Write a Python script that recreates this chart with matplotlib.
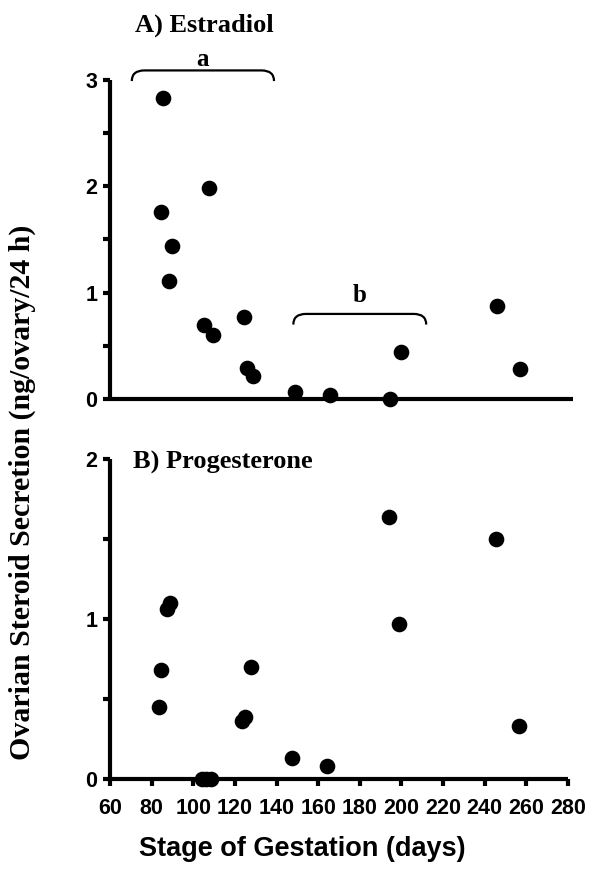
import matplotlib
matplotlib.use('Agg')
import matplotlib.pyplot as plt
from matplotlib.path import Path
from matplotlib.patches import PathPatch

# A) estradiol secretion (ng/ovary/24 h) vs day of gestation
e2_day = [85.7, 84.4, 107.7, 89.7, 88.6, 105.4, 109.6, 124.7, 126.2, 128.8,
          149.2, 166.0, 195.0, 200.0, 246.4, 257.3]
e2_val = [2.83, 1.76, 1.98, 1.44, 1.11, 0.70, 0.60, 0.77, 0.29, 0.22,
          0.07, 0.04, 0.0, 0.44, 0.87, 0.28]

# B) progesterone secretion
p4_day = [88.6, 87.3, 84.6, 83.3, 127.5, 125.0, 123.5, 147.6, 164.4,
          104.2, 106.0, 108.5, 193.8, 199.0, 245.2, 256.3]
p4_val = [1.10, 1.06, 0.68, 0.45, 0.70, 0.39, 0.36, 0.13, 0.08,
          0.0, 0.0, 0.0, 1.64, 0.97, 1.50, 0.33]

# significance brackets: label, start day, end day, level, label level
brackets = [('a', 70.5, 139.0, 3.09, 3.19),
            ('b', 148.3, 212.3, 0.80, 0.97)]

x_ticks = list(range(60, 281, 20))

sans = ['Liberation Sans', 'DejaVu Sans']
serif = ['Liberation Serif', 'DejaVu Serif']
lw = 3.0

fig = plt.figure(figsize=(5.92, 8.8), dpi=100)
ax1 = fig.add_axes([110 / 592, 1 - 399 / 880, 463 / 592, 319 / 880])
ax2 = fig.add_axes([110 / 592, 1 - 779 / 880, 458 / 592, 320 / 880])

for ax in (ax1, ax2):
    for s in ('top', 'right'):
        ax.spines[s].set_visible(False)
    for s in ('left', 'bottom'):
        ax.spines[s].set_linewidth(lw)
        ax.spines[s].set_capstyle('butt')
    ax.tick_params(which='both', direction='out', width=lw, length=5, pad=4)

ax1.scatter(e2_day, e2_val, s=105, color='black', zorder=3, clip_on=False)
ax1.set_xlim(60, 283)
ax1.set_ylim(0, 3)
ax1.set_yticks([0, 1, 2, 3])
ax1.set_yticks([0.5, 1.5, 2.5], minor=True)
ax1.set_xticks([])

ax2.scatter(p4_day, p4_val, s=105, color='black', zorder=3, clip_on=False)
ax2.set_xlim(60, 280)
ax2.set_ylim(0, 2)
ax2.set_yticks([0, 1, 2])
ax2.set_yticks([0.5, 1.5], minor=True)
ax2.set_xticks(x_ticks)
ax2.tick_params(axis='x', pad=9)

for ax in (ax1, ax2):
    for lab in ax.get_xticklabels() + ax.get_yticklabels():
        lab.set_fontfamily(sans)
        lab.set_fontweight('bold')
        lab.set_fontsize(15.5)

# brackets
for lab, x0, x1, top, ly in brackets:
    drop, dx = 0.1, 6
    verts = [(x0, top - drop), (x0, top), (x0 + dx, top),
             (x1 - dx, top), (x1, top), (x1, top - drop)]
    codes = [Path.MOVETO, Path.CURVE3, Path.CURVE3,
             Path.LINETO, Path.CURVE3, Path.CURVE3]
    ax1.add_patch(PathPatch(Path(verts, codes), fill=False, lw=1.6,
                            color='black', clip_on=False))
    ax1.text((x0 + x1) / 2, ly, lab, ha='center', va='center',
             fontsize=18, fontweight='bold', family=serif, clip_on=False)

ax1.text(0.204, 1.172, 'A) Estradiol', transform=ax1.transAxes, ha='center',
         va='center', fontsize=19, fontweight='bold', family=serif)
ax2.text(0.05, 0.99, 'B) Progesterone', transform=ax2.transAxes, ha='left',
         va='center', fontsize=19, fontweight='bold', family=serif)

fig.text(22 / 592, 1 - 492 / 880, 'Ovarian Steroid Secretion (ng/ovary/24 h)',
         rotation=90, ha='center', va='center', fontsize=21.5,
         fontweight='bold', family=serif)
fig.text(302 / 592, 1 - 849 / 880, 'Stage of Gestation (days)',
         ha='center', va='center', fontsize=19.5, fontweight='bold', family=sans)

fig.savefig('out.png', dpi=100)
